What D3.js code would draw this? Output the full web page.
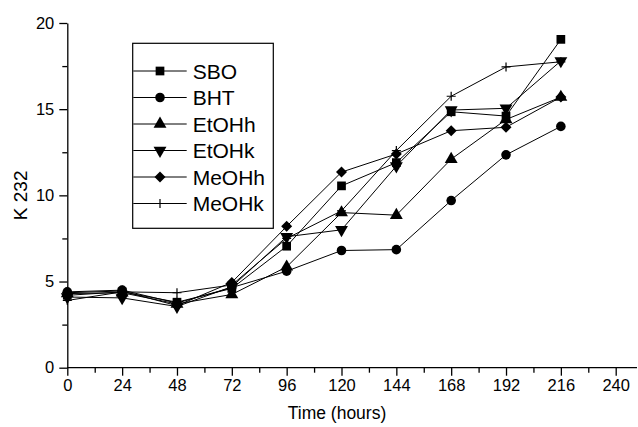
<!DOCTYPE html>
<html><head><meta charset="utf-8">
<script src="https://cdn.jsdelivr.net/npm/d3@7"></script>
<style>body{margin:0;background:#fff}svg{display:block;font-family:"Liberation Sans",Arial,sans-serif}</style>
</head><body><svg id="c" width="638" height="427"></svg>
<script>
const times = [0,24,48,72,96,120,144,168,192,216];
const seriesNames = ["SBO","BHT","EtOHh","EtOHk","MeOHh","MeOHk"];
const SBO   = [4.2, 4.4, 3.8, 4.6, 7.05, 10.55, 11.9, 14.85, 14.6, 19.05];
const BHT   = [4.4, 4.5, 3.75, 4.65, 5.6, 6.8, 6.85, 9.7, 12.35, 14.0];
const EtOHh = [4.3, 4.35, 3.7, 4.25, 5.85, 9.0, 8.85, 12.1, 14.4, 15.7];
const EtOHk = [4.1, 4.05, 3.55, 4.7, 7.6, 8.0, 11.7, 14.95, 15.05, 17.8];
const MeOHh = [4.35, 4.45, 3.6, 4.95, 8.2, 11.35, 12.4, 13.75, 13.95, 15.7];
const MeOHk = [3.9, 4.4, 4.35, 4.8, 7.5, 9.1, 12.6, 15.75, 17.45, 17.75];
const xTicks = [0,24,48,72,96,120,144,168,192,216,240];
const yTicks = [0,5,10,15,20];
const xLabel = "Time (hours)";
const yLabel = "K 232";

const seriesValues = [SBO,BHT,EtOHh,EtOHk,MeOHh,MeOHk];
const symbols = ["square","circle","triup","tridown","diamond","plus"];

const svg = d3.select("#c");
const x = d3.scaleLinear().domain([0,240]).range([67.3,615.7]);
const y = d3.scaleLinear().domain([0,20]).range([367.7,23]);

// axes
const xAxis = svg.append("g").attr("transform",`translate(0,${y(0)})`)
  .call(d3.axisBottom(x).tickValues(xTicks).tickSize(8).tickSizeOuter(0).tickPadding(4));
xAxis.select(".domain").attr("d",`M${x(0)},0H637`);
svg.append("g").attr("transform",`translate(0,${y(0)})`)
  .call(d3.axisBottom(x).tickValues(d3.range(12,240,24)).tickSize(5).tickFormat(""))
  .call(g=>g.select(".domain").remove());
const yAxis = svg.append("g").attr("transform",`translate(${x(0)},0)`)
  .call(d3.axisLeft(y).tickValues(yTicks).tickSize(8).tickSizeOuter(0).tickPadding(5));
svg.append("g").attr("transform",`translate(${x(0)},0)`)
  .call(d3.axisLeft(y).tickValues([2.5,7.5,12.5,17.5]).tickSize(5).tickFormat(""))
  .call(g=>g.select(".domain").remove());
svg.selectAll(".tick text").attr("font-size","16.5px").attr("fill","#000").attr("font-family","'Liberation Sans',Arial,sans-serif");
svg.selectAll(".domain,.tick line").attr("stroke","#000").attr("stroke-width",1.3);

svg.append("text").attr("x",337).attr("y",419).attr("text-anchor","middle")
  .attr("font-size","17.5px").text(xLabel);
svg.append("text").attr("transform",`translate(27,${y(10)}) rotate(-90)`).attr("text-anchor","middle")
  .attr("font-size","19px").text(yLabel);

function marker(sel, sym){
  if(sym==="plus"){
    return sel.append("path").attr("d","M-4.5,0H4.5M0,-4.5V4.5").attr("stroke","#000").attr("stroke-width",1.2).attr("fill","none");
  }
  if(sym==="diamond"){
    return sel.append("path").attr("d","M0,-5.5L5.5,0L0,5.5L-5.5,0Z").attr("fill","#000");
  }
  if(sym==="tridown"){
    return sel.append("path").attr("d",d3.symbol(d3.symbolTriangle,72)()).attr("transform","rotate(180)").attr("fill","#000");
  }
  if(sym==="triup"){
    return sel.append("path").attr("d",d3.symbol(d3.symbolTriangle,72)()).attr("fill","#000");
  }
  if(sym==="square"){
    return sel.append("path").attr("d",d3.symbol(d3.symbolSquare,76)()).attr("fill","#000");
  }
  return sel.append("path").attr("d",d3.symbol(d3.symbolCircle,72)()).attr("fill","#000");
}

const line = d3.line().x((d,i)=>x(times[i])).y(d=>y(d));
seriesValues.forEach((vals,si)=>{
  svg.append("path").datum(vals).attr("d",line).attr("fill","none").attr("stroke","#000").attr("stroke-width",1);
});
seriesValues.forEach((vals,si)=>{
  vals.forEach((v,i)=>{
    const g = svg.append("g").attr("transform",`translate(${x(times[i])},${y(v)})`);
    marker(g, symbols[si]);
  });
});

// legend
const lg = svg.append("g");
lg.append("rect").attr("x",132.7).attr("y",43.3).attr("width",140.6).attr("height",185)
  .attr("fill","#fff").attr("stroke","#000").attr("stroke-width",1.2);
seriesNames.forEach((n,i)=>{
  const yy = 71 + i*26.5;
  lg.append("line").attr("x1",133.3).attr("x2",186.7).attr("y1",yy).attr("y2",yy).attr("stroke","#000");
  const g = lg.append("g").attr("transform",`translate(160,${yy})`);
  marker(g, symbols[i]);
  lg.append("text").attr("x",192.7).attr("y",yy+7.5).attr("font-size","21px").text(n);
});
</script></body></html>
